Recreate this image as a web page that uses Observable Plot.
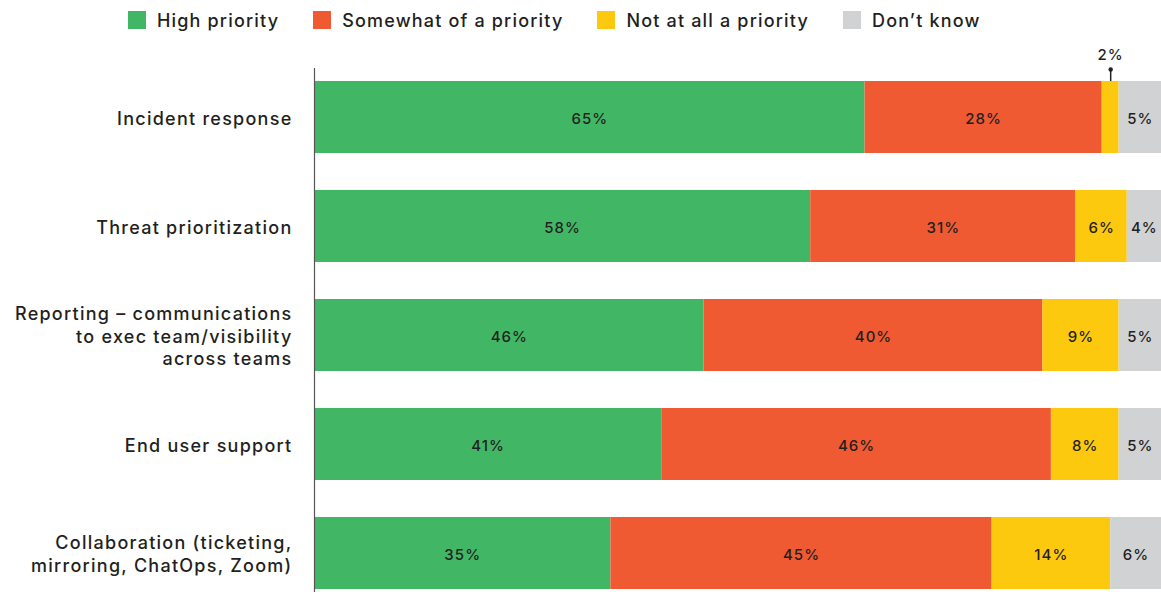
<!DOCTYPE html>
<html>
<head>
<meta charset="utf-8">
<script src="https://cdn.jsdelivr.net/npm/d3@7"></script>
<script src="https://cdn.jsdelivr.net/npm/@observablehq/plot@0.6"></script>
<style>
  html, body { margin: 0; padding: 0; background: #fff; overflow: hidden; }
  body { font-family: Inter, "Noto Sans", sans-serif; color: #231f20; }
  #legend { height: 40px; display: flex; align-items: center; padding-left: 128px; box-sizing: border-box; }
  .item { display: flex; align-items: center; margin-right: 34px; font-size: 18px; font-weight: 500; letter-spacing: 0.065em; }
  .sw { width: 18px; height: 18px; margin-right: 11px; }
  #chart svg { display: block; overflow: visible; }
  #chart svg text { letter-spacing: 0.07em; }
</style>
</head>
<body>
<div id="legend"></div>
<div id="chart"></div>
<script>
const categories = [
  "Incident response",
  "Threat prioritization",
  "Reporting – communications\nto exec team/visibility\nacross teams",
  "End user support",
  "Collaboration (ticketing,\nmirroring, ChatOps, Zoom)"
];
const series = ["High priority", "Somewhat of a priority", "Not at all a priority", "Don’t know"];
const highPriority = [65, 58, 46, 41, 35];
const somewhatPriority = [28, 31, 40, 46, 45];
const notAtAllPriority = [2, 6, 9, 8, 14];
const dontKnow = [5, 4, 5, 5, 6];
const colors = ["#41b766", "#ef5a32", "#fdc90f", "#d1d2d4"];

const seriesValues = [highPriority, somewhatPriority, notAtAllPriority, dontKnow];

// Build stacked, row-normalized table
const rows = [];
categories.forEach((cat, i) => {
  const total = seriesValues.reduce((s, arr) => s + arr[i], 0);
  let cum = 0;
  series.forEach((s, j) => {
    const v = seriesValues[j][i];
    const x1 = cum / total * 100;
    cum += v;
    const x2 = cum / total * 100;
    rows.push({cat, series: s, value: v, x1, x2, mid: (x1 + x2) / 2});
  });
});
const inside = rows.filter(d => d.value >= 3);
const outside = rows.filter(d => d.value < 3);

// Legend
const legend = document.getElementById("legend");
series.forEach((s, j) => {
  const it = document.createElement("div");
  it.className = "item";
  it.innerHTML = `<span class="sw" style="background:${colors[j]}"></span><span>${s}</span>`;
  legend.appendChild(it);
});

const chart = Plot.plot({
  width: 1161,
  height: 561,
  marginTop: 28,
  marginBottom: 0,
  marginLeft: 314,
  marginRight: 0,
  style: {fontFamily: "Inter, 'Noto Sans', sans-serif", color: "#231f20", background: "#fff", overflow: "visible"},
  x: {domain: [0, 100], axis: null},
  y: {domain: categories, paddingInner: 0.344, paddingOuter: 0.1, label: null},
  color: {domain: series, range: colors},
  marks: [
    Plot.axisY({tickSize: 0, tickPadding: 22, fontSize: 18, fontWeight: 500, lineHeight: 1.25, label: null, fill: "#231f20"}),
    Plot.barX(rows, {x1: "x1", x2: "x2", y: "cat", fill: "series"}),
    Plot.ruleX([0], {stroke: "#555", strokeWidth: 1.2}),
    Plot.text(inside, {x: "mid", y: "cat", text: d => d.value + "%", fontSize: 15, fontWeight: 500, fill: "#231f20", dy: 2}),
    Plot.ruleX(outside, {x: "mid", y1: "cat", y2: "cat", stroke: "#231f20", strokeWidth: 1.5, dy: -12, insetBottom: 60}),
    Plot.dot(outside, {x: "mid", y: "cat", r: 2.2, fill: "#231f20", stroke: null, dy: -48}),
    Plot.text(outside, {x: "mid", y: "cat", text: d => d.value + "%", fontSize: 15, fontWeight: 500, fill: "#231f20", dy: -62})
  ]
});
document.getElementById("chart").appendChild(chart);
</script>
</body>
</html>
